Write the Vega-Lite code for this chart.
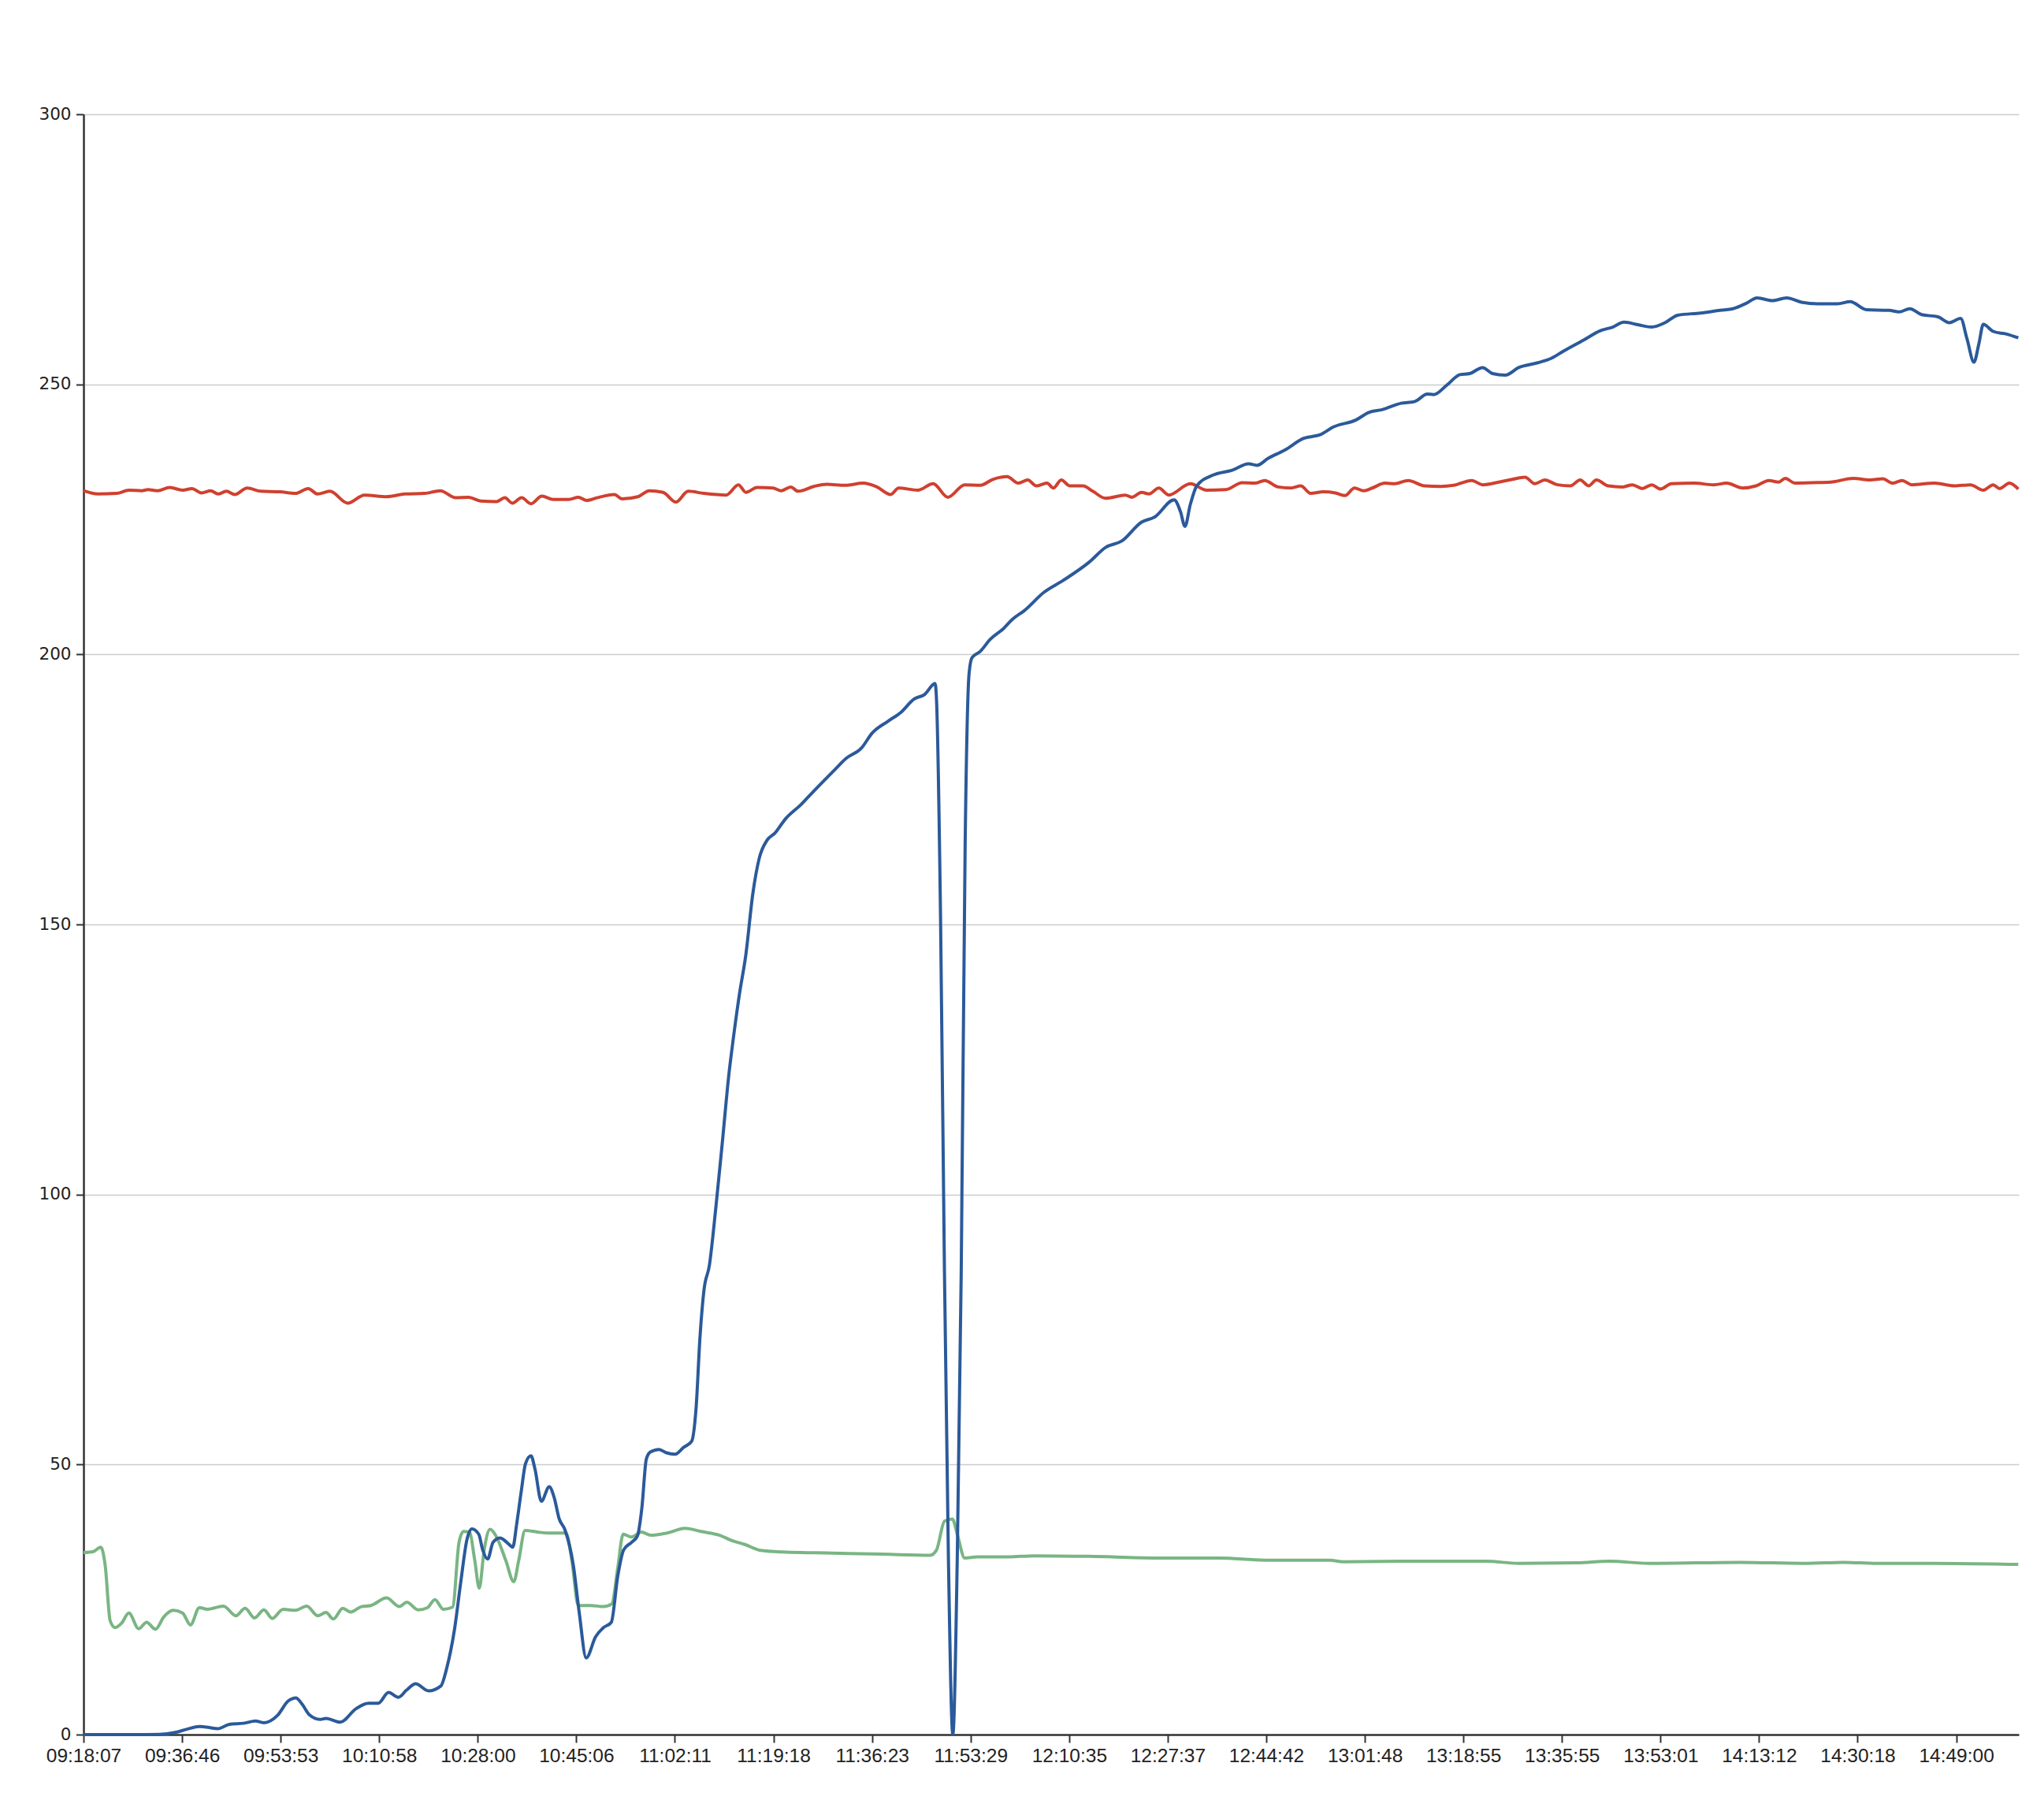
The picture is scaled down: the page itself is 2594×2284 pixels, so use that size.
{
"$schema": "https://vega.github.io/schema/vega-lite/v6.json",
"width": 2456,
"height": 2056,
"autosize": {"type": "none"},
"padding": {"left": 106, "top": 145, "right": 32, "bottom": 83},
"background": "white",
"config": {"view": {"stroke": null}},
"datasets": {
"red": [[0,230.3],[2.9,229.7],[6.7,229.8],[9.2,230.4],[11.8,230.3],[13.1,230.5],[15,230.3],[17.5,230.9],[20.1,230.4],[22,230.7],[23.9,229.9],[25.8,230.3],[27.3,229.7],[29,230.2],[30.7,229.6],[33.2,230.8],[36,230.2],[39.8,230.1],[43,229.8],[45.6,230.7],[47.5,229.7],[50,230.2],[53.6,228.0],[57,229.5],[61.5,229.2],[65.3,229.7],[69.2,229.8],[72.4,230.3],[75.5,229.0],[78.1,229.1],[80.6,228.4],[83.8,228.3],[85.5,229.0],[87,228.0],[88.9,229.0],[90.8,227.9],[93,229.3],[95.3,228.7],[98.5,228.7],[100.4,229.1],[102.1,228.5],[104.2,229.0],[107.7,229.6],[109.3,228.8],[112.5,229.2],[114.8,230.3],[117.6,230.0],[120.2,228.2],[122.7,230.2],[125.9,229.8],[130.4,229.5],[132.9,231.4],[134.4,230.0],[136.7,230.9],[139.9,230.8],[141.6,230.3],[143.5,231.0],[145,230.2],[148.2,231.1],[150.8,231.5],[154.6,231.3],[158.2,231.7],[161,231.0],[163.8,229.6],[165.4,230.8],[169.3,230.4],[172.4,231.6],[175.4,229.1],[178.8,231.4],[182,231.3],[184.5,232.4],[187.4,232.9],[189.7,231.7],[191.6,232.3],[193.3,231.2],[195.5,231.7],[196.8,230.8],[198.4,232.3],[200.1,231.2],[202.8,231.2],[204.8,230.2],[207.4,228.9],[211.4,229.5],[212.7,229.1],[214.7,230.0],[216.2,229.7],[218.2,230.8],[220.2,229.5],[224.6,231.6],[227.9,230.4],[231.8,230.5],[235.1,231.8],[237.7,231.7],[239.7,232.2],[242.4,231.0],[245,230.8],[247,231.2],[249,229.8],[251.6,230.1],[254,229.9],[256,229.4],[257.9,230.8],[259.8,230.3],[261.5,230.8],[264.1,231.7],[266.1,231.6],[268.8,232.2],[272.1,231.2],[275.4,231.1],[278,231.3],[281.7,232.2],[283.9,231.4],[287.2,231.9],[289.9,232.4],[292.5,232.8],[294.5,231.6],[296.5,232.3],[299.1,231.4],[301.7,231.2],[303.7,232.3],[305.4,231.2],[307,232.3],[309.4,231.2],[312.3,231.0],[314.3,231.4],[316.3,230.7],[318.2,231.4],[320,230.6],[322.2,231.6],[326.8,231.7],[330.8,231.4],[333.4,231.7],[336.7,230.8],[339.4,231.2],[342,232.2],[344,231.9],[345.3,232.6],[347.3,231.7],[350.6,231.8],[354.5,231.9],[359.1,232.6],[362.5,232.3],[365.1,232.5],[367.1,231.7],[369,232.2],[371,231.4],[375.6,231.7],[379.6,231.2],[382.9,231.4],[385.5,230.4],[387.5,231.4],[388.8,230.7],[390.8,231.7],[392.6,230.6]],
"green": [[0,33.7],[2,33.9],[3.5,34.7],[4.4,31.3],[5.4,21.1],[6.4,19.8],[7.7,20.6],[9.2,22.5],[11.2,19.6],[12.8,20.8],[14.6,19.5],[16.3,21.8],[18.2,23.0],[20.1,22.5],[21.7,20.3],[23.5,23.5],[25.2,23.2],[28.4,23.8],[30.9,22.0],[32.8,23.4],[34.7,21.6],[36.6,23.1],[38.3,21.5],[40.5,23.2],[43,23.0],[45.3,23.8],[47.5,22.0],[49.2,22.6],[50.7,21.4],[52.6,23.4],[54.2,22.7],[56.4,23.7],[58.3,23.9],[61.5,25.3],[64.1,23.7],[65.6,24.5],[67.9,23.1],[69.8,23.5],[71.3,25.0],[73,23.2],[74.9,23.6],[76.2,35.6],[77.1,37.6],[78.3,37.5],[79.4,32.2],[80.3,27.1],[81.3,34.2],[82.5,38.0],[83.8,36.6],[85.7,32.2],[87.3,28.3],[88.3,32.2],[89.6,37.8],[92.1,37.5],[94.7,37.3],[97.9,37.3],[99.1,32.2],[100.4,23.9],[102.9,23.9],[105.5,23.7],[107.2,24.2],[108.4,30.8],[109.5,37.1],[111.2,36.6],[113.2,37.5],[115.1,36.9],[118.3,37.3],[122.1,38.2],[125.3,37.6],[129.1,36.9],[131.6,35.9],[134.2,35.2],[137.4,34.1],[141.8,33.8],[152,33.6],[162.2,33.4],[171.8,33.2],[173.1,34.2],[174.7,39.5],[176.3,39.9],[177.3,37.1],[178.8,32.7],[181.4,32.9],[187.7,32.9],[192.8,33.1],[204.1,33.0],[217.3,32.7],[230.5,32.7],[239.7,32.3],[252.9,32.3],[255.6,32.0],[270.1,32.1],[284.6,32.1],[291.2,31.7],[303.1,31.8],[309.7,32.1],[317.6,31.7],[336.1,31.9],[349.3,31.7],[357.2,31.9],[363.8,31.7],[375.6,31.7],[392.6,31.5]],
"blue": [[0,0],[10,0],[15.4,0.05],[18.6,0.4],[21,1.0],[23.5,1.5],[25.5,1.3],[27.2,1.1],[29.6,1.9],[32.5,2.1],[34.9,2.5],[36.6,2.2],[39.4,3.6],[41.5,6.2],[43.1,6.8],[44.3,5.7],[45.9,3.6],[48,2.8],[49.2,3.0],[52.1,2.3],[55.3,4.8],[57.8,5.8],[59.8,5.8],[61.9,7.8],[63.9,6.9],[65.5,8.2],[67.4,9.4],[70,8.1],[72.5,9.0],[73.7,12.3],[75.3,19.6],[76.5,27.9],[77.8,36.1],[78.8,38.1],[80.2,37.1],[81,34.2],[82,32.5],[83.1,35.6],[84.5,36.4],[85.9,35.6],[87.1,34.7],[87.9,39.0],[88.8,44.9],[89.7,50.2],[90.8,51.6],[91.6,49.2],[92.9,43.2],[94.5,45.9],[95.5,43.9],[96.5,40.0],[97.7,37.9],[99.4,31.3],[100.6,22.5],[102,14.2],[103.9,18.1],[105.5,19.8],[107.1,20.8],[108.4,29.3],[109.6,34.2],[111.2,35.6],[112.4,36.8],[113.3,42],[114.2,51],[115,52.3],[116.8,52.8],[118.2,52.2],[120,51.9],[121.8,53.2],[123.4,54.3],[124.3,60.5],[125.1,73.7],[125.9,82.3],[127,86.9],[128.3,97.5],[129.6,109.4],[131,122.6],[131.8,128.5],[133.1,137.1],[134.4,144.4],[135.8,155.6],[137.1,162.2],[138.7,165.6],[140.3,166.9],[142.4,169.5],[145.6,172.2],[148.3,174.8],[152.5,178.7],[154.7,180.7],[157.9,182.7],[160,185.4],[163.2,187.6],[165.9,189.3],[168.5,191.7],[170.7,192.6],[172.8,194.6],[173.1,191.3],[173.9,151.7],[174.7,85.6],[175.5,32.8],[176.4,0],[177.3,32.8],[178.1,85.6],[178.9,165],[179.7,196.5],[180.3,199.4],[181.9,200.5],[184,202.8],[186.7,204.8],[188.5,206.5],[190.9,208.1],[194.9,211.5],[198.8,213.7],[204.1,217.1],[207.4,219.8],[210.7,221.0],[214.7,224.5],[217.3,225.4],[221.3,228.6],[222.6,226.4],[223.5,223.7],[224.6,227.8],[225.9,231.2],[229.2,233.2],[233.1,234.1],[236.4,235.3],[238.1,235.0],[240.4,236.3],[243.7,237.8],[247.6,240.0],[251,240.7],[253.6,242.1],[258.2,243.4],[260.8,244.8],[263.5,245.3],[267.4,246.5],[270.1,246.8],[272.7,248.2],[274,248.1],[276.7,249.9],[279.3,251.8],[281.3,252.0],[283.9,253.1],[285.9,252.0],[288.5,251.7],[291.2,253.1],[295.1,254.0],[297.8,254.8],[300.4,256.2],[304.4,258.2],[307.7,259.9],[310.3,260.6],[312.6,261.5],[315.6,261.0],[318.2,260.6],[320.9,261.4],[323.5,262.8],[328.1,263.2],[332.1,263.7],[334.7,264.0],[337.4,265.0],[339.6,266.0],[342.7,265.5],[345.6,266.0],[348.6,265.2],[351.9,264.9],[355.9,264.9],[358.5,265.3],[361.8,263.8],[366.4,263.7],[368.4,263.4],[370.6,264.0],[373,262.9],[376.3,262.5],[378.6,261.4],[380.9,262.2],[382.2,258.4],[383.6,254.1],[384.6,257.5],[385.5,261.1],[387.5,259.8],[390.2,259.3],[392.6,258.6]]
},
"layer": [
{"data": {"name": "red"}, "transform": [{"calculate": "datum[0]", "as": "i"}, {"calculate": "datum[1]", "as": "v"}],
 "mark": {"type": "line", "interpolate": "monotone", "strokeWidth": 4, "color": "#d0402f"},
 "encoding": {
  "x": {"field": "i", "type": "quantitative", "scale": {"domain": [0, 392.7], "nice": false, "zero": false},
   "axis": {"values": [0,20,40,60,80,100,120,140,160,180,200,220,240,260,280,300,320,340,360,380],
    "labelExpr": "['09:18:07','09:36:46','09:53:53','10:10:58','10:28:00','10:45:06','11:02:11','11:19:18','11:36:23','11:53:29','12:10:35','12:27:37','12:44:42','13:01:48','13:18:55','13:35:55','13:53:01','14:13:12','14:30:18','14:49:00'][round(datum.value/20)]",
    "grid": false, "title": null, "domainColor": "#333333", "domainWidth": 2.5, "tickColor": "#333333", "tickWidth": 2, "tickSize": 10, "labelPadding": 5,
    "labelFont": "Liberation Sans", "labelFontSize": 24.5, "labelColor": "#222222", "labelFlush": false, "labelOverlap": false}},
  "y": {"field": "v", "type": "quantitative", "scale": {"domain": [0, 300], "nice": false},
   "axis": {"values": [0,50,100,150,200,250,300], "grid": true, "gridColor": "#cccccc", "gridWidth": 1.5, "title": null,
    "domainColor": "#333333", "domainWidth": 2.5, "tickColor": "#333333", "tickWidth": 2, "tickSize": 9.5, "labelPadding": 6.5,
    "labelFont": "DejaVu Sans", "labelFontSize": 21.5, "labelColor": "#222222"}}
 }},
{"data": {"name": "green"}, "transform": [{"calculate": "datum[0]", "as": "i"}, {"calculate": "datum[1]", "as": "v"}],
 "mark": {"type": "line", "interpolate": "monotone", "strokeWidth": 4, "color": "#79b583"},
 "encoding": {"x": {"field": "i", "type": "quantitative"}, "y": {"field": "v", "type": "quantitative"}}},
{"data": {"name": "blue"}, "transform": [{"calculate": "datum[0]", "as": "i"}, {"calculate": "datum[1]", "as": "v"}],
 "mark": {"type": "line", "interpolate": "monotone", "strokeWidth": 4, "color": "#2b5a9a"},
 "encoding": {"x": {"field": "i", "type": "quantitative"}, "y": {"field": "v", "type": "quantitative"}}}
]
}
